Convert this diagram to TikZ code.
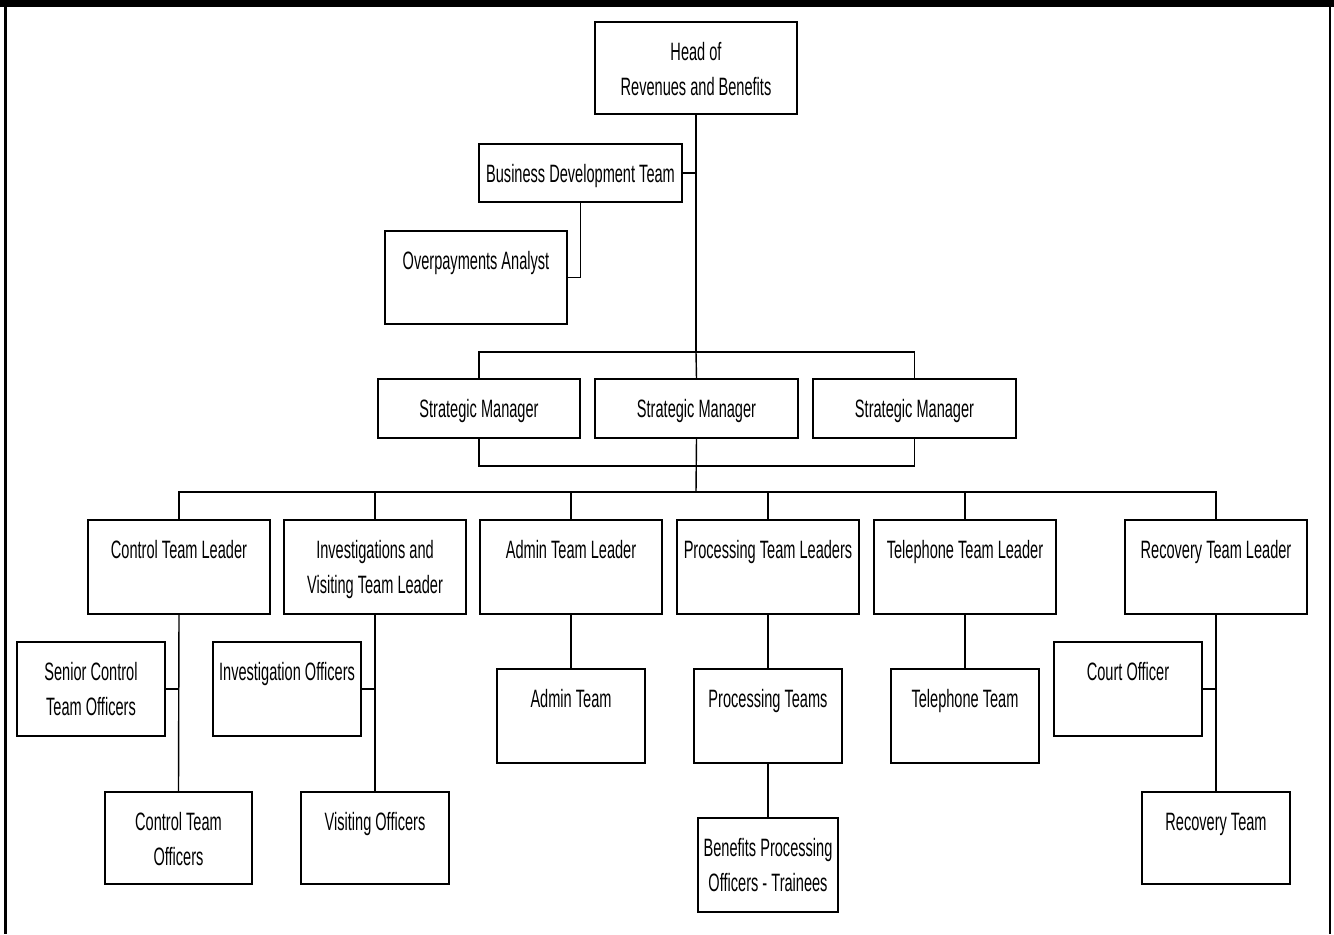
\documentclass[tikz,border=0pt]{standalone}
\usepackage{fontspec}
\setmainfont{Liberation Sans}[FakeStretch=0.58]
\newdimen\px \px=0.02cm

\begin{document}
\begin{tikzpicture}[x=0.02cm, y=-0.02cm,
    box/.style={draw, line width=1.2pt, inner sep=0pt, outer sep=0pt, anchor=north west},
    lbl/.style={anchor=base, yshift=-38\px, inner sep=0pt,
                font=\fontsize{14.3pt}{20.1pt}\selectfont,
                execute at begin node={\begin{minipage}[t]{5cm}\centering},
                execute at end node={\end{minipage}}},
    link/.style={line width=0.8pt}]
    \useasboundingbox (0,0) rectangle (1334,934);

    % frame
    \fill (0,0) rectangle (1334,7);
    \draw[line width=1.2pt] (5.5,7) -- (5.5,934);
    \draw[line width=1.2pt] (1330,7) -- (1330,934);

    % head and staff
    \node[box, minimum width=202\px, minimum height=92\px,
          label={[lbl]north:Head of\\Revenues and Benefits}] (hd) at (595,22) {};
    \node[box, minimum width=203\px, minimum height=58\px,
          label={[lbl]north:Business Development Team}] (bdt) at (479,144) {};
    \node[box, minimum width=182\px, minimum height=93\px,
          label={[lbl]north:Overpayments Analyst}] (oa) at (385,231) {};

    % strategic managers
    \node[box, minimum width=202\px, minimum height=59\px,
          label={[lbl]north:Strategic Manager}] (sm1) at (378,379) {};
    \node[box, minimum width=203\px, minimum height=59\px,
          label={[lbl]north:Strategic Manager}] (sm2) at (595,379) {};
    \node[box, minimum width=203\px, minimum height=59\px,
          label={[lbl]north:Strategic Manager}] (sm3) at (813,379) {};

    % team leaders
    \node[box, minimum width=182\px, minimum height=94\px,
          label={[lbl]north:Control Team Leader}] (ctl) at (88,520) {};
    \node[box, minimum width=182\px, minimum height=94\px,
          label={[lbl]north:Investigations and\\Visiting Team Leader}] (ivtl) at (284,520) {};
    \node[box, minimum width=182\px, minimum height=94\px,
          label={[lbl]north:Admin Team Leader}] (atl) at (480,520) {};
    \node[box, minimum width=182\px, minimum height=94\px,
          label={[lbl]north:Processing Team Leaders}] (ptl) at (677,520) {};
    \node[box, minimum width=182\px, minimum height=94\px,
          label={[lbl]north:Telephone Team Leader}] (ttl) at (874,520) {};
    \node[box, minimum width=182\px, minimum height=94\px,
          label={[lbl]north:Recovery Team Leader}] (rtl) at (1125,520) {};

    % teams
    \node[box, minimum width=148\px, minimum height=94\px,
          label={[lbl]north:Senior Control\\Team Officers}] (scto) at (17,642) {};
    \node[box, minimum width=147\px, minimum height=92\px,
          label={[lbl]north:Control Team\\Officers}] (cto) at (105,792) {};
    \node[box, minimum width=148\px, minimum height=94\px,
          label={[lbl]north:Investigation Officers}] (io) at (213,642) {};
    \node[box, minimum width=148\px, minimum height=92\px,
          label={[lbl]north:Visiting Officers}] (vo) at (301,792) {};
    \node[box, minimum width=148\px, minimum height=94\px,
          label={[lbl]north:Admin Team}] (at) at (497,669) {};
    \node[box, minimum width=148\px, minimum height=94\px,
          label={[lbl]north:Processing Teams}] (pt) at (694,669) {};
    \node[box, minimum width=140\px, minimum height=94\px,
          label={[lbl]north:Benefits Processing\\Officers - Trainees}] (bpot) at (698,818) {};
    \node[box, minimum width=148\px, minimum height=94\px,
          label={[lbl]north:Telephone Team}] (tt) at (891,669) {};
    \node[box, minimum width=148\px, minimum height=94\px,
          label={[lbl]north:Court Officer}] (co) at (1054,642) {};
    \node[box, minimum width=148\px, minimum height=92\px,
          label={[lbl]north:Recovery Team}] (rt) at (1142,792) {};

    % bus points
    \coordinate (smtop) at (696,352);
    \coordinate (smbot) at (696,466);
    \coordinate (tlbar) at (696,492);

    % connectors
    \draw[link] (hd.south) -- (smtop);
    \draw[link] (bdt.east) -- (bdt.east -| hd.south);
    \draw[link] (bdt.south) |- (oa.east);
    \draw[link] (sm1.north) |- (smtop) -| (sm3.north);
    \draw[link] (smtop) -- (sm2.north);
    \draw[link] (sm1.south) |- (smbot) -| (sm3.south);
    \draw[link] (sm2.south) -- (tlbar);
    \draw[link] (ctl.north) |- (tlbar) -| (rtl.north);
    \foreach \n in {ivtl, atl, ptl, ttl}
        \draw[link] (\n.north) -- (\n.north |- tlbar);

    \draw[link] (ctl.south) -- (cto.north);
    \draw[link] (scto.east) -- (scto.east -| ctl.south);
    \draw[link] (ivtl.south) -- (vo.north);
    \draw[link] (io.east) -- (io.east -| ivtl.south);
    \draw[link] (atl.south) -- (at.north);
    \draw[link] (ptl.south) -- (pt.north);
    \draw[link] (pt.south) -- (bpot.north);
    \draw[link] (ttl.south) -- (tt.north);
    \draw[link] (rtl.south) -- (rt.north);
    \draw[link] (co.east) -- (co.east -| rtl.south);
\end{tikzpicture}
\end{document}
